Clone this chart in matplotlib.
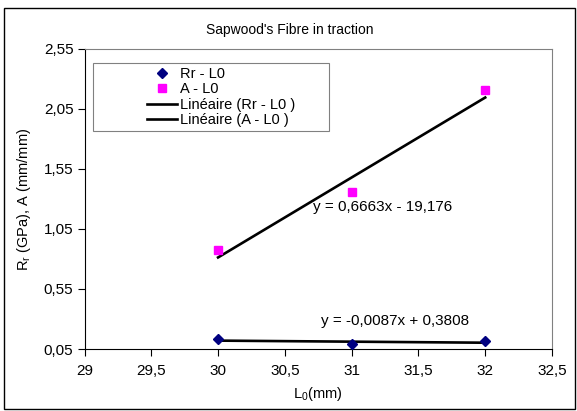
import numpy as np
import matplotlib.pyplot as plt
from matplotlib.patches import Rectangle
from matplotlib.ticker import FixedLocator, FuncFormatter

plt.rcParams['font.family'] = ['Liberation Sans', 'DejaVu Sans']
plt.rcParams['mathtext.default'] = 'regular'

# measurements
L0 = [30, 31, 32]
Rr = [0.130, 0.090, 0.113]
A = [0.873, 1.360, 2.205]

# linear trend coefficients (slope, intercept)
fit_Rr = [-0.0087, 0.3808]
fit_A = [0.6663, -19.176]

x_ticks = [29, 29.5, 30, 30.5, 31, 31.5, 32, 32.5]
y_ticks = [0.05, 0.55, 1.05, 1.55, 2.05, 2.55]


def comma(v, pos=None):
    return ('%g' % round(v, 2)).replace('.', ',')


def num(v):
    return str(v).replace('.', ',')


W, H = 577, 411
fig = plt.figure(figsize=(W / 100, H / 100), dpi=100)
fig.patch.set_facecolor('white')

# outer chart border
fig.add_artist(Rectangle((4 / W, 1 - 409 / H), 571 / W, 401 / H,
                         transform=fig.transFigure, fill=False,
                         edgecolor='black', linewidth=1.0))

left, right, top, bottom = 84.5, 552, 49, 349
ax = fig.add_axes([left / W, 1 - bottom / H, (right - left) / W, (bottom - top) / H])

ax.plot(L0, Rr, linestyle='none', marker='D', markersize=5.5,
        color='#000080', label='Rr - L0', zorder=3)
ax.plot(L0, A, linestyle='none', marker='s', markersize=5.5,
        color='#FF00FF', label='A - L0', zorder=3)

xx = np.array([L0[0], L0[-1]])
ax.plot(xx, fit_Rr[0] * xx + fit_Rr[1], color='black', linewidth=1.9,
        label='Linéaire (Rr - L0 )', zorder=2)
ax.plot(xx, fit_A[0] * xx + fit_A[1], color='black', linewidth=1.9,
        label='Linéaire (A - L0 )', zorder=2)

ax.text(30.71, 1.23, 'y = %sx - %s' % (num(fit_A[0]), num(abs(fit_A[1]))),
        fontsize=11, va='center', ha='left')
ax.text(30.77, 0.285, 'y = %sx + %s' % (num(fit_Rr[0]), num(fit_Rr[1])),
        fontsize=11, va='center', ha='left')

ax.set_xlim(29, 32.5)
ax.set_ylim(0.05, 2.55)
ax.xaxis.set_major_locator(FixedLocator(x_ticks))
ax.yaxis.set_major_locator(FixedLocator(y_ticks))
ax.xaxis.set_major_formatter(FuncFormatter(comma))
ax.yaxis.set_major_formatter(FuncFormatter(lambda v, p: ('%.2f' % v).replace('.', ',')))
ax.tick_params(direction='out', length=5, width=0.8, labelsize=11, color='black')
ax.tick_params(axis='x', pad=6)
ax.tick_params(axis='y', pad=3)

for side in ['top', 'right']:
    ax.spines[side].set_color('#808080')
    ax.spines[side].set_linewidth(0.8)
for side in ['left', 'bottom']:
    ax.spines[side].set_color('black')
    ax.spines[side].set_linewidth(0.8)

ax.set_xlabel('L$_0$(mm)', fontsize=10.5, labelpad=5)
ax.set_ylabel('R$_r$ (GPa), A (mm/mm)', fontsize=10.5, labelpad=8)

fig.text(290 / W, 1 - 30 / H, "Sapwood's Fibre in traction", fontsize=10,
         ha='center', va='center')

# legend box drawn separately, entries placed inside it
fig.add_artist(Rectangle((93 / W, 1 - 131 / H), 236 / W, 68 / H,
                         transform=fig.transFigure, fill=False,
                         edgecolor='#808080', linewidth=0.8))
leg = ax.legend(loc='upper left', bbox_to_anchor=(147 / W, 1 - 67 / H),
                bbox_transform=fig.transFigure,
                fontsize=10.5, frameon=False, borderpad=0,
                labelspacing=0.1, handlelength=2.05, handletextpad=0.2,
                borderaxespad=0)

fig.savefig('out.png', dpi=100)
